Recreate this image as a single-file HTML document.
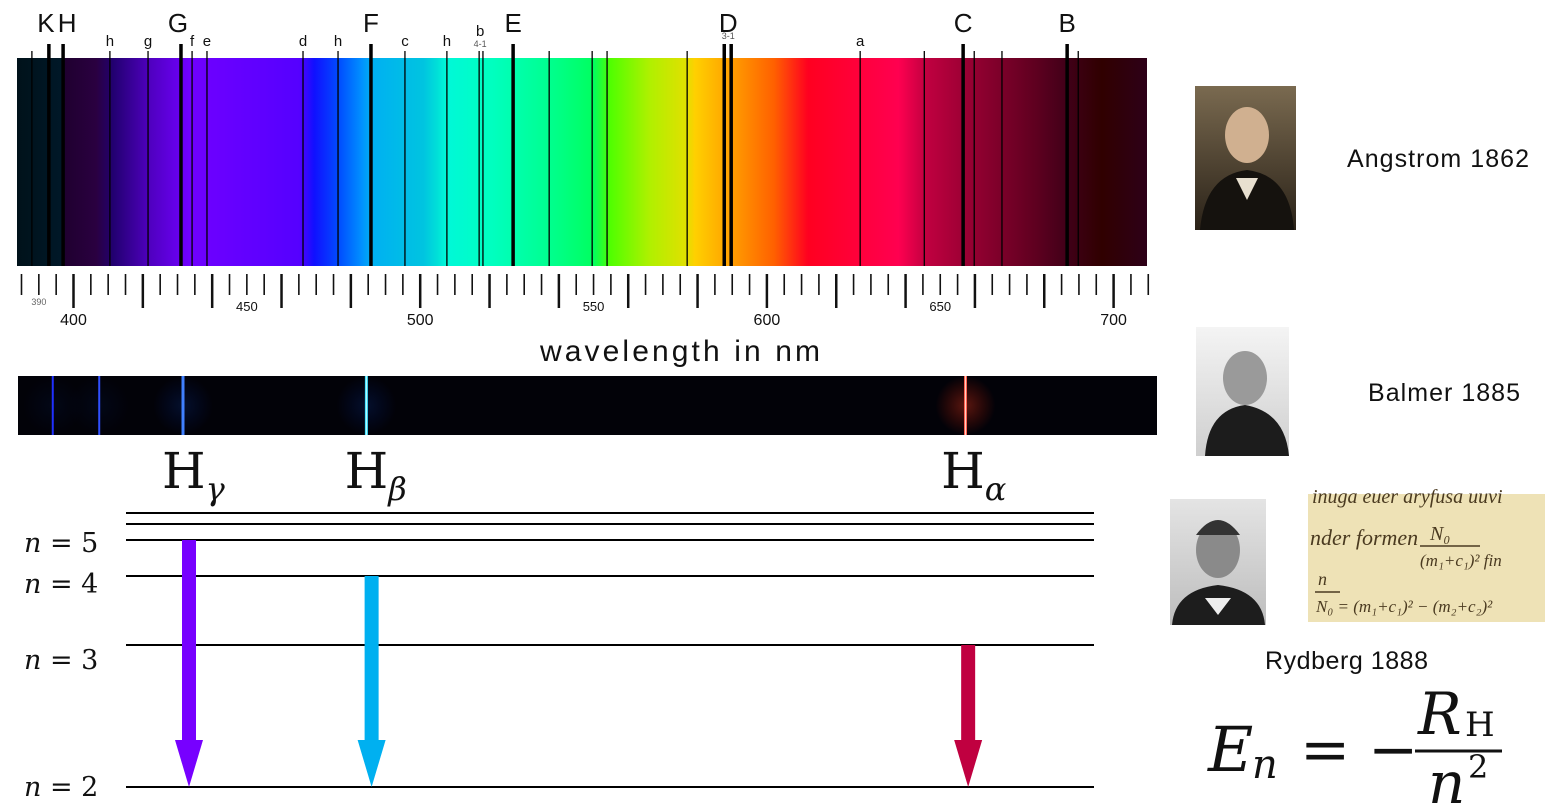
<!DOCTYPE html>
<html><head><meta charset="utf-8"><style>
html,body{margin:0;padding:0;background:#fff;}
svg{display:block;}
</style></head><body>
<svg id="fig" width="1561" height="812" viewBox="0 0 1561 812" xmlns="http://www.w3.org/2000/svg">
<defs>
<linearGradient id="spec" x1="17" x2="1147" y1="0" y2="0" gradientUnits="userSpaceOnUse">
<stop offset="0" stop-color="#00121a"/><stop offset="0.04" stop-color="#001828"/>
<stop offset="0.043" stop-color="#200030"/><stop offset="0.07" stop-color="#2a0040"/>
<stop offset="0.085" stop-color="#220070"/><stop offset="0.118" stop-color="#5000c0"/>
<stop offset="0.153" stop-color="#7000ff"/><stop offset="0.25" stop-color="#5500ff"/>
<stop offset="0.263" stop-color="#1010ff"/><stop offset="0.286" stop-color="#0050ff"/>
<stop offset="0.305" stop-color="#0090ff"/><stop offset="0.314" stop-color="#00b0f2"/>
<stop offset="0.36" stop-color="#00c4e0"/><stop offset="0.372" stop-color="#00e0d8"/>
<stop offset="0.38" stop-color="#00f8d8"/><stop offset="0.42" stop-color="#00ffc0"/>
<stop offset="0.47" stop-color="#00ff90"/><stop offset="0.51" stop-color="#00ff60"/>
<stop offset="0.525" stop-color="#50ff00"/><stop offset="0.56" stop-color="#b0f000"/>
<stop offset="0.592" stop-color="#e0e000"/><stop offset="0.6" stop-color="#ffd000"/>
<stop offset="0.625" stop-color="#ffaa00"/><stop offset="0.67" stop-color="#ff6000"/>
<stop offset="0.7" stop-color="#ff0020"/><stop offset="0.78" stop-color="#ff0050"/>
<stop offset="0.805" stop-color="#c00040"/><stop offset="0.85" stop-color="#900030"/>
<stop offset="0.9" stop-color="#600020"/><stop offset="0.93" stop-color="#400018"/>
<stop offset="0.96" stop-color="#300000"/><stop offset="1" stop-color="#2e0018"/>
</linearGradient>
<radialGradient id="glowR"><stop offset="0" stop-color="#ff4020" stop-opacity="0.35"/><stop offset="1" stop-color="#ff2000" stop-opacity="0"/></radialGradient>
<radialGradient id="glowB"><stop offset="0" stop-color="#1060ff" stop-opacity="0.15"/><stop offset="1" stop-color="#0030ff" stop-opacity="0"/></radialGradient>
<linearGradient id="ang" x1="0" y1="0" x2="0" y2="1"><stop offset="0" stop-color="#7a6a50"/><stop offset="1" stop-color="#2a2218"/></linearGradient>
<linearGradient id="bal" x1="0" y1="0" x2="0" y2="1"><stop offset="0" stop-color="#f4f4f4"/><stop offset="1" stop-color="#cfcfcf"/></linearGradient>
<linearGradient id="ryd" x1="0" y1="0" x2="0" y2="1"><stop offset="0" stop-color="#e4e4e4"/><stop offset="1" stop-color="#bdbdbd"/></linearGradient>
</defs>
<rect x="17" y="58" width="1130" height="208" fill="url(#spec)"/>
<g id="fraun"></g>
<g id="ticks"></g>
<text x="680" y="361" font-family="Liberation Sans, sans-serif" font-size="30" text-anchor="middle" textLength="280" lengthAdjust="spacing" fill="#111">wavelength in nm</text>
<rect x="18" y="376" width="1139" height="59" fill="#020208"/>
<g id="hlines"></g>
<g id="levels"></g>
<g id="arrows"></g>
<g id="hlabels"></g>

<g>
<rect x="1195" y="86" width="101" height="144" fill="url(#ang)"/>
<ellipse cx="1247" cy="135" rx="22" ry="28" fill="#d0b090"/>
<path d="M1200 230 Q1205 175 1247 170 Q1290 175 1294 230 Z" fill="#15120e"/>
<path d="M1236 178 L1247 200 L1258 178 Z" fill="#e8e0d0"/>
</g>
<text x="1347" y="167" font-family="Liberation Sans, sans-serif" font-size="25" textLength="182" lengthAdjust="spacing" fill="#111">Angstrom 1862</text>
<g>
<rect x="1196" y="327" width="93" height="129" fill="url(#bal)"/>
<ellipse cx="1245" cy="378" rx="22" ry="27" fill="#9a9a9a"/>
<path d="M1205 456 Q1208 410 1245 405 Q1285 412 1289 456 Z" fill="#1c1c1c"/>
</g>
<text x="1368" y="401" font-family="Liberation Sans, sans-serif" font-size="25" textLength="152" lengthAdjust="spacing" fill="#111">Balmer 1885</text>
<g>
<rect x="1170" y="499" width="96" height="126" fill="url(#ryd)"/>
<ellipse cx="1218" cy="550" rx="22" ry="28" fill="#8a8a8a"/>
<path d="M1196 535 Q1218 505 1240 535 Z" fill="#333"/>
<path d="M1172 625 Q1175 590 1218 585 Q1262 590 1265 625 Z" fill="#1d1d1d"/>
<path d="M1205 598 L1218 615 L1231 598 Z" fill="#eee"/>
</g>
<g>
<rect x="1308" y="494" width="237" height="128" fill="#eee2b6"/>
<text x="1312" y="503" font-family="Liberation Serif, serif" font-style="italic" font-size="20" fill="#4a3a20">inuga euer aryfusa uuvi</text>
<text x="1310" y="545" font-family="Liberation Serif, serif" font-style="italic" font-size="22" fill="#4a3a20">nder formen</text>
<text x="1430" y="540" font-family="Liberation Serif, serif" font-style="italic" font-size="20" fill="#4a3a20">N₀</text>
<line x1="1420" y1="546" x2="1480" y2="546" stroke="#4a3a20" stroke-width="1.5"/>
<text x="1420" y="566" font-family="Liberation Serif, serif" font-style="italic" font-size="17" fill="#4a3a20">(m₁+c₁)²  fin</text>
<text x="1318" y="585" font-family="Liberation Serif, serif" font-style="italic" font-size="18" fill="#4a3a20">n</text>
<line x1="1315" y1="592" x2="1340" y2="592" stroke="#4a3a20" stroke-width="1.5"/>
<text x="1316" y="612" font-family="Liberation Serif, serif" font-style="italic" font-size="17" fill="#4a3a20">N₀ = (m₁+c₁)² − (m₂+c₂)²</text>
</g>
<text x="1265" y="669" font-family="Liberation Sans, sans-serif" font-size="25" textLength="163" lengthAdjust="spacing" fill="#111">Rydberg 1888</text>
<g font-family="DejaVu Serif, Liberation Serif, serif" fill="#111">
<text x="1208" y="771" font-size="62" font-style="italic">E</text>
<text x="1252" y="778" font-size="40" font-style="italic">n</text>
<text x="1300" y="770" font-size="60">=</text>
<text x="1368" y="770" font-size="60">−</text>
<text x="1418" y="734" font-size="58" font-style="italic">R</text>
<text x="1465" y="736" font-size="34">H</text>
<line x1="1415" y1="751" x2="1502" y2="751" stroke="#111" stroke-width="3"/>
<text x="1428" y="803" font-size="58" font-style="italic">n</text>
<text x="1468" y="778" font-size="32">2</text>
</g>
</svg>
<script>
// Fraunhofer lines: wavelength (nm), label, thick
const fraunWl = [388.0,392.9,397.0,410.5,421.5,431.0,434.2,438.5,466.2,476.3,485.8,495.6,507.7,517.0,518.1,526.8,537.2,549.6,553.9,577.0,587.7,589.7,626.9,645.4,656.6,659.8,667.8,686.6,689.8];
const fraunLabel = ["","K","H","h","g","G","f","e","d","h","F","c","h","b","","E","","","","","D","","a","","C","","","B",""];
const fraunThick = [0,1,1,0,0,1,0,0,0,0,1,0,0,0,0,1,0,0,0,0,1,1,0,0,1,0,0,1,0];
const bigLetters = ["K","H","G","F","E","D","C","B"];
const tickStart = 385, tickEnd = 710, tickStep = 5;
const tickLabelsBig = [400,500,600,700];
const tickLabelsSmall = [450,550,650];
const tickLabelsTiny = [390];
// Hydrogen emission (nm)
const hWl = [397.0,410.2,434.0,486.1,656.3];
const hColor = ["#2030ff","#3050ff","#4080ff","#40e0ff","#ff6050"];
// Energy levels: n values and relative level height
const levelN = [2,3,4,5,6,7];
const levelHeight = [0,142,211,247,263,274];
const levelShowLabel = [1,1,1,1,0,0];
const transFrom = [5,4,3];
const transColor = ["#7700ff","#00b0f0","#c00040"];
const transName = ["gamma","beta","alpha"];
const transGreek = ["γ","β","α"];
const transWl = [434.0,486.1,656.3];

const NS="http://www.w3.org/2000/svg";
function mk(tag,attrs,parent){const e=document.createElementNS(NS,tag);for(const k in attrs)e.setAttribute(k,attrs[k]);parent.appendChild(e);return e;}
const xs = wl => 73.5 + (wl-400)*3.467;
const xh = wl => 183 + (wl-434)*3.52;
const xa = wl => 189 + (wl-434)*3.505;
const ys = h => 787 - h;
const yOfN = n => ys(levelHeight[levelN.indexOf(n)]);

const fr=document.getElementById('fraun');
fraunWl.forEach((wl,i)=>{
  const x=xs(wl), thick=fraunThick[i];
  const l=mk('line',{x1:x,x2:x,y1:thick?44:51,y2:266,stroke:'#000','stroke-width':thick?3.5:1.3},fr);
  
  
  const lab=fraunLabel[i];
  if(lab){
    const big=bigLetters.includes(lab);
    let tx=x; if(lab==="K")tx=x-3; if(lab==="H")tx=x+4; if(lab==="G")tx=x-3; if(lab==="b")tx=x+1; if(lab==="D")tx=x+4;
    const t=mk('text',{x:tx,y:big?32:(lab==="b"?36:46),'font-family':'Liberation Sans, sans-serif','font-size':big?26:15,'text-anchor':'middle',fill:'#111'},fr);
    t.textContent=lab;
    
    
    if(lab==="b"||lab==="D"){
      const s=mk('text',{x:tx,y:lab==="b"?47:39,'font-family':'Liberation Sans, sans-serif','font-size':9,'text-anchor':'middle',fill:'#555'},fr);
      s.textContent=lab==="b"?"4-1":"3-1";
      
      
    }
  }
});
const tk=document.getElementById('ticks');
for(let wl=tickStart;wl<=tickEnd;wl+=tickStep){
  const x=xs(wl), long=(wl-400)%20===0;
  const l=mk('line',{x1:x,x2:x,y1:274,y2:long?308:295,stroke:'#111','stroke-width':long?2.5:1.6},tk);
  
  
}
tickLabelsBig.forEach(v=>{const t=mk('text',{x:xs(v),y:325,'font-family':'Liberation Sans, sans-serif','font-size':16,'text-anchor':'middle',fill:'#111'},tk);t.textContent=v;});
tickLabelsSmall.forEach(v=>{const t=mk('text',{x:xs(v),y:311,'font-family':'Liberation Sans, sans-serif','font-size':13,'text-anchor':'middle',fill:'#111'},tk);t.textContent=v;});
tickLabelsTiny.forEach(v=>{const t=mk('text',{x:xs(v),y:305,'font-family':'Liberation Sans, sans-serif','font-size':9,'text-anchor':'middle',fill:'#666'},tk);t.textContent=v;});

const hl=document.getElementById('hlines');
hWl.forEach((wl,i)=>{
  const x=xh(wl);
  const g=mk('rect',{x:x-30,y:376,width:60,height:59,fill:i==4?'url(#glowR)':'url(#glowB)',opacity:i>=2?1:0.4},hl);
  
  
  const l=mk('line',{x1:x,x2:x,y1:376,y2:435,stroke:hColor[i],'stroke-width':i>=2?3:2},hl);
  
  
  if(i>=3){const c=mk('line',{x1:x,x2:x,y1:376,y2:435,stroke:i==4?'#ffd0c0':'#c0ffff','stroke-width':1},hl);}
});

const lv=document.getElementById('levels');
levelN.forEach((n,i)=>{
  const y=ys(levelHeight[i]);
  const l=mk('line',{x1:126,x2:1094,y1:y,y2:y,stroke:'#000','stroke-width':2},lv);
  
  
  if(levelShowLabel[i]){
    const t=mk('text',{x:24,y:y+(n==2?9:n==5?12:n==4?17:24),'font-family':'DejaVu Serif, Liberation Serif, serif','font-size':27,fill:'#111'},lv);
    t.innerHTML='<tspan font-style="italic">n</tspan> = '+n;
    
    
  }
});
const ar=document.getElementById('arrows');
const hlab=document.getElementById('hlabels');
transFrom.forEach((n,i)=>{
  const x=xa(transWl[i]), y1=yOfN(n), y2=yOfN(2);
  const r=mk('rect',{x:x-7,y:y1,width:14,height:y2-y1-46,fill:transColor[i]},ar);
  
  
  const p=mk('polygon',{points:`${x-14},${y2-47} ${x+14},${y2-47} ${x},${y2}`,fill:transColor[i]},ar);
  
  
  const t=mk('text',{x:x-27,y:488,'font-family':'DejaVu Serif, Liberation Serif, serif','font-size':50,fill:'#111'},hlab);
  t.innerHTML='H<tspan font-size="32" font-style="italic" dy="12">'+transGreek[i]+'</tspan>';
  
  
});
</script>
</body></html>
